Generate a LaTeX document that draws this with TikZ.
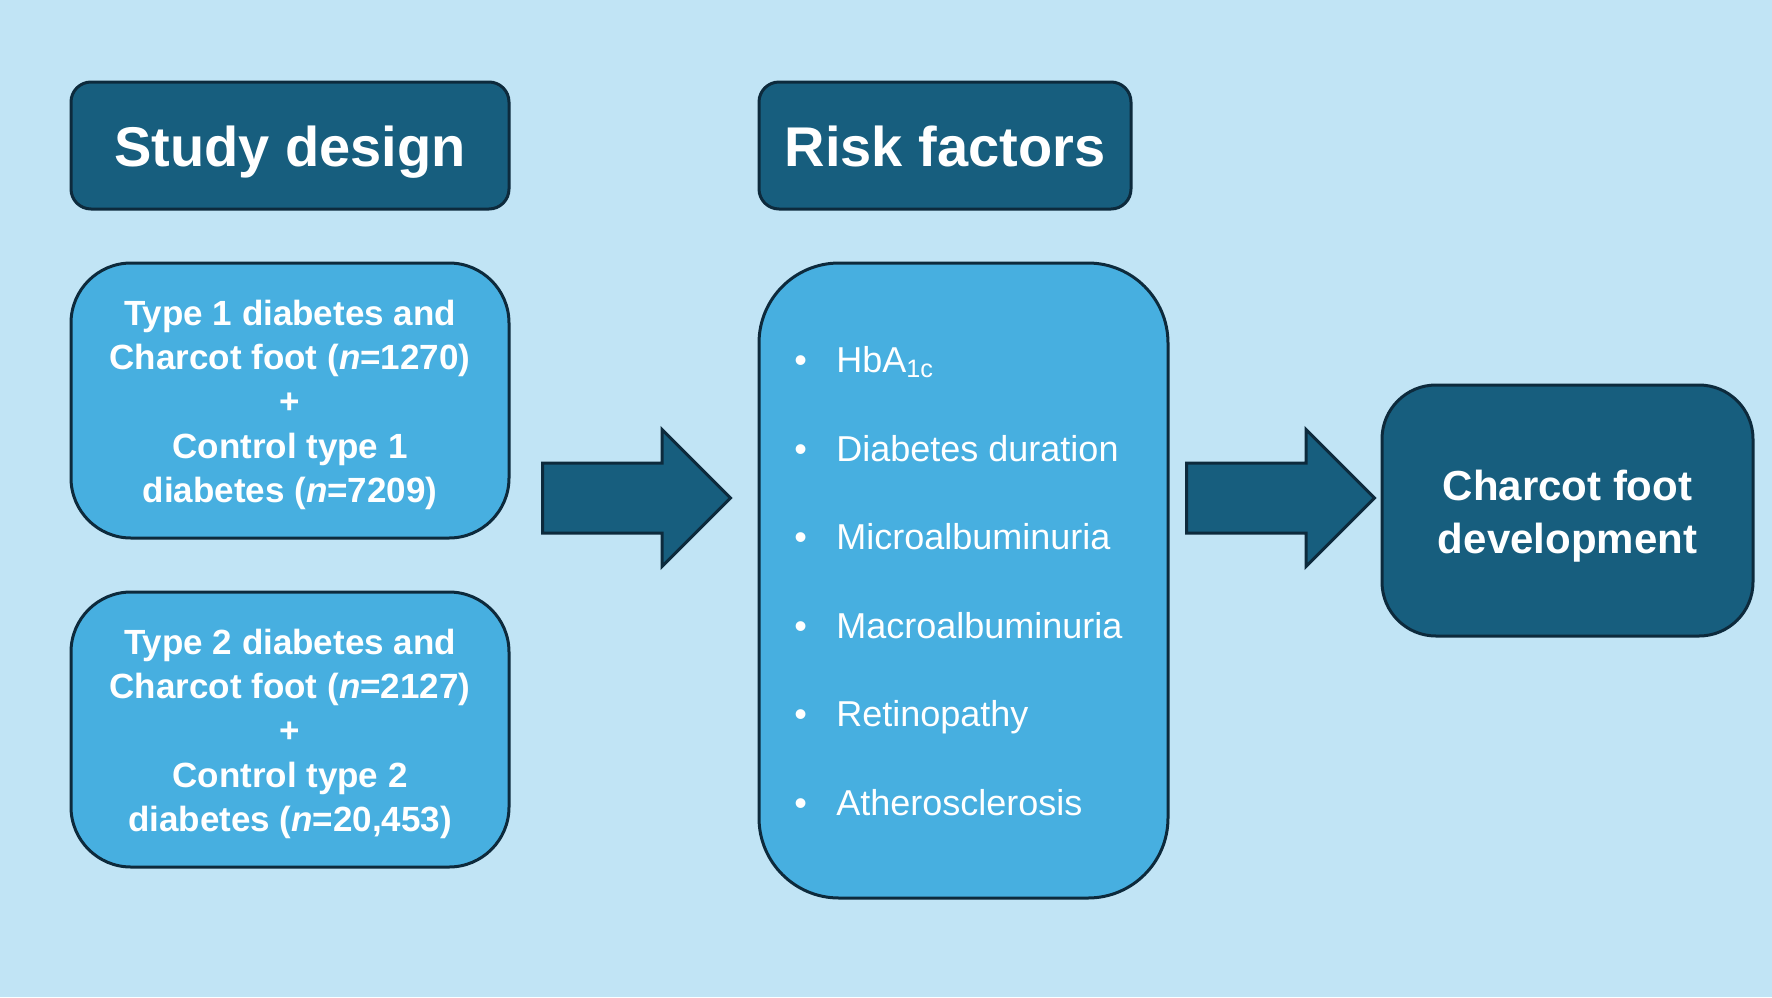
\documentclass[tikz,border=0pt]{standalone}
\usepackage{fontspec}
\setmainfont{Liberation Sans}
\usetikzlibrary{shapes.arrows}
\definecolor{fond}{RGB}{193,228,245}
\definecolor{fonce}{RGB}{23,94,126}
\definecolor{moyen}{RGB}{71,175,224}
\definecolor{bord}{RGB}{13,42,60}
\newcommand{\lowered}[2]{\raisebox{-#1}[\height][\depth]{#2}}
\tikzset{
  box/.style={draw=bord, line width=1.5pt, text=white, inner sep=0pt},
  header/.style={box, fill=fonce, rounded corners=10pt, minimum height=63.5pt,
    text height=24pt, text depth=2.6pt,
    font=\bfseries\fontsize{28}{34}\selectfont},
  cohort/.style={box, fill=moyen, rounded corners=30pt,
    minimum width=219pt, minimum height=137.5pt,
    font=\bfseries\fontsize{17.5}{22.2}\selectfont},
  item/.style={anchor=base west, inner sep=0pt, text=white,
    font=\fontsize{18}{22}\selectfont},
  bigarrow/.style={single arrow, draw=bord, line width=1.5pt, fill=fonce, anchor=tail,
    minimum height=94pt, minimum width=67pt, inner xsep=0pt, inner ysep=16.75pt,
    single arrow head extend=16.75pt, single arrow tip angle=90}
}
\begin{document}
\begin{tikzpicture}[x=0.5pt, y=-0.5pt]
  \fill[fond] (0,0) rectangle (1772,997);
  \useasboundingbox (0,0) rectangle (1772,997);
  %Titres
  \node[header, minimum width=219pt] (design) at (290,145.5) {Study design};
  \node[header, minimum width=186pt] (risk) at (945,145.5) {Risk factors};
  %Cohortes
  \node[cohort] (type1) at (290,400.5) {\lowered{2.2pt}{\parbox{210pt}{\centering Type 1 diabetes and\\Charcot foot (\textit{n}=1270)\\+\\Control type 1\\diabetes (\textit{n}=7209)}}};
  \node[cohort] (type2) at (290,729.5) {\lowered{2.2pt}{\parbox{210pt}{\centering Type 2 diabetes and\\Charcot foot (\textit{n}=2127)\\+\\Control type 2\\diabetes (\textit{n}=20,453)}}};
  %Facteurs de risque
  \node[box, fill=moyen, rounded corners=40pt, minimum width=204.5pt, minimum height=317.5pt] (factors) at (963.5,580.5) {};
  \foreach \txt [count=\i] in {HbA\textsubscript{1c}, Diabetes duration, Microalbuminuria, Macroalbuminuria, Retinopathy, Atherosclerosis}
    \node[item] (F\i) at (794,{372.5+88.5*(\i-1)}) {\makebox[21pt][l]{•}\txt};
  %Resultat
  \node[box, fill=fonce, rounded corners=27pt, minimum width=185.5pt, minimum height=125.5pt,
    font=\bfseries\fontsize{21}{26.5}\selectfont] (outcome) at (1567.5,510.5) {\lowered{2.8pt}{\parbox{180pt}{\centering Charcot foot\\development}}};
  %Fleches
  \node[bigarrow] (arrowA) at (541,498) {};
  \node[bigarrow] (arrowB) at (1185,498) {};
\end{tikzpicture}
\end{document}
